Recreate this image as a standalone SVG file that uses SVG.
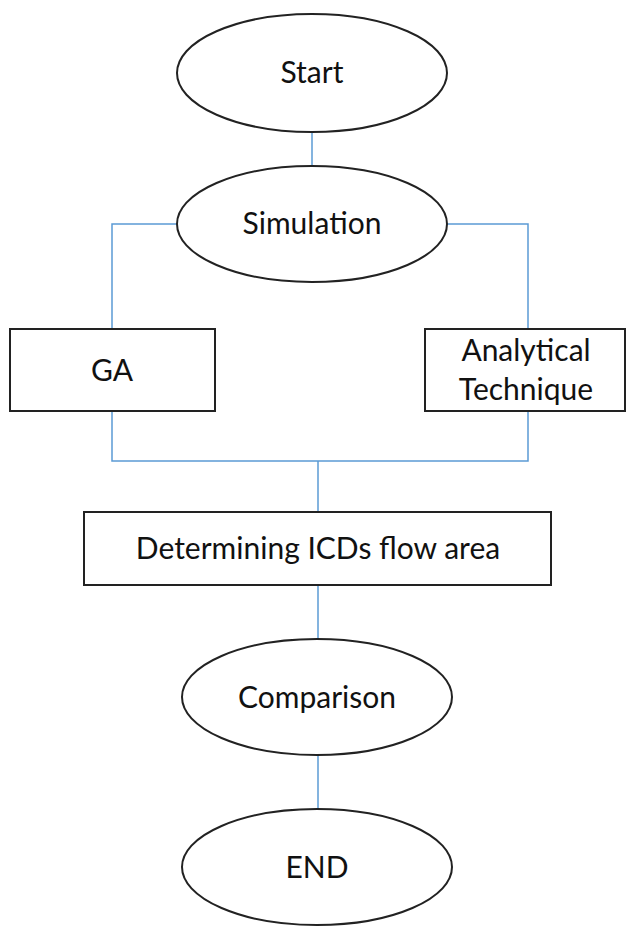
<svg xmlns="http://www.w3.org/2000/svg" width="626" height="927" viewBox="0 0 626 927">
<style>
.n{fill:#fff;stroke:#222;stroke-width:2}
.c{fill:none;stroke:#5B9BD5;stroke-width:1.5}
text{font-family:Lato,"Open Sans",sans-serif;font-size:30px;fill:#111;text-anchor:middle}
</style>
<rect width="626" height="927" fill="#fff"/>
<g id="connectors">
<line class="c" x1="312" y1="132" x2="312" y2="166"/>
<polyline class="c" points="177,224 112,224 112,329"/>
<polyline class="c" points="447,224 528,224 528,329"/>
<polyline class="c" points="112,411 112,461 528,461 528,411"/>
<line class="c" x1="318" y1="461" x2="318" y2="512"/>
<line class="c" x1="318" y1="585" x2="318" y2="639"/>
<line class="c" x1="318" y1="755" x2="318" y2="809"/>
</g>
<g id="start"><ellipse class="n" cx="312" cy="73" rx="135" ry="59"/><text x="312" y="83">Start</text></g>
<g id="simulation"><ellipse class="n" cx="312" cy="224" rx="135" ry="58"/><text x="312" y="234">Simulation</text></g>
<g id="ga"><rect class="n" x="10" y="329" width="205" height="82"/><text x="112" y="381">GA</text></g>
<g id="analytical"><rect class="n" x="425" y="329" width="200" height="82"/><text x="526" y="361">Analytical</text><text x="526" y="400">Technique</text></g>
<g id="determining"><rect class="n" x="84" y="512" width="467" height="73"/><text x="318" y="559">Determining ICDs flow area</text></g>
<g id="comparison"><ellipse class="n" cx="317" cy="697" rx="135" ry="58"/><text x="317" y="708">Comparison</text></g>
<g id="end"><ellipse class="n" cx="317" cy="867" rx="135" ry="58"/><text x="317" y="878">END</text></g>
</svg>
